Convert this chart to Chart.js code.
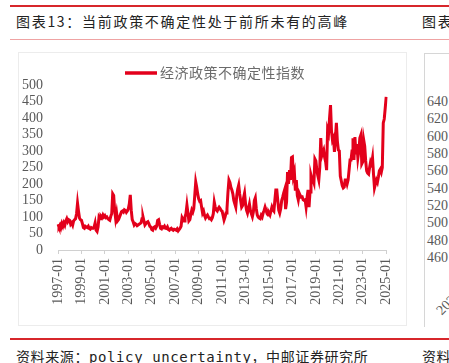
<!DOCTYPE html>
<html>
<head>
<meta charset="utf-8">
<script src="https://cdn.jsdelivr.net/npm/chart.js@4.4.1/dist/chart.umd.min.js"></script>
<style>
  html, body { margin: 0; padding: 0; background: #fff; }
  body { width: 449px; height: 363px; position: relative; overflow: hidden; font-family: 'Noto Sans CJK SC', sans-serif; }
  .rule-red { position: absolute; left: 10px; right: 0; height: 2px; background: #d7262b; }
  .rule-pink { position: absolute; left: 10px; right: 0; top: 39px; height: 1px; background: #efa3a3; }
  .title { position: absolute; top: 14px; left: 16px; font-size: 14px; line-height: 14px; letter-spacing: 1.7px; color: #222; white-space: nowrap; }
  .source { position: absolute; top: 350px; left: 16px; font-size: 14px; line-height: 14px; letter-spacing: 0.6px; color: #222; white-space: nowrap;
            font-family: 'DejaVu Sans Mono', 'Noto Sans CJK SC', monospace; }
  .box { position: absolute; left: 18px; top: 52px; width: 389px; height: 274px; border: 1px solid #ececec; box-sizing: border-box; }
  #wrap { position: absolute; left: 18px; top: 52px; width: 389px; height: 274px; }
  .rbox { position: absolute; left: 424px; top: 53px; width: 60px; height: 273px; border-left: 1px solid #d6d6d6; border-top: 1px solid #d6d6d6; }
  .rtick { position: absolute; left: 427px; font-family: 'Liberation Serif', serif; font-size: 14px; color: #595959; line-height: 14px; }
  .rlab { position: absolute; left: 434px; top: 308px; font-family: 'Liberation Serif', serif; font-size: 14px; line-height: 14px; color: #595959; transform: rotate(-45deg); transform-origin: left top; }
</style>
</head>
<body>
<div class="rule-red" style="top:5px"></div>
<div class="title">图表13：当前政策不确定性处于前所未有的高峰</div>
<div class="title" style="left:422px">图表</div>
<div class="rule-pink"></div>

<div class="box"></div>
<div id="wrap"><canvas id="epuChart" width="389" height="274"></canvas></div>

<div class="rbox"></div>
<div id="rightTicks"></div>
<div class="rlab">2020</div>

<div class="rule-red" style="top:338px"></div>
<div class="source">资料来源：policy uncertainty，中邮证券研究所</div>
<div class="source" style="left:422px">资料</div>

<script>
// Monthly index, 1997-01 .. 2025-01
const startYear = 1997;
const epuValues = [
  78, 70, 76, 68, 80, 72, 82, 75, 88, 95, 86, 92,          // 1997
  90, 78, 82, 75, 88, 92, 95, 110, 142, 118, 97, 92,       // 1998
  90, 80, 68, 66, 72, 70, 68, 72, 65, 63, 68, 66,          // 1999
  66, 70, 82, 60, 56, 70, 100, 95, 102, 98, 106, 100,      // 2000
  104, 98, 100, 95, 92, 90, 102, 110, 170, 165, 120, 95,   // 2001
  112, 88, 92, 100, 108, 116, 118, 115, 122, 120, 114, 118, // 2002
  125, 140, 167, 120, 92, 85, 76, 80, 78, 74, 76, 78,      // 2003
  80, 82, 95, 101, 88, 76, 80, 84, 86, 80, 72, 70,         // 2004
  62, 60, 68, 70, 66, 72, 90, 92, 78, 66, 64, 70,          // 2005
  68, 72, 66, 65, 70, 62, 60, 64, 66, 62, 60, 63,          // 2006
  62, 60, 64, 58, 62, 66, 72, 98, 92, 88, 100, 110,        // 2007
  136, 112, 88, 92, 108, 121, 115, 125, 165, 206, 190, 170, // 2008
  155, 148, 150, 130, 112, 118, 105, 97, 102, 106, 100, 95, // 2009
  96, 92, 98, 110, 145, 130, 121, 118, 125, 130, 126, 120, // 2010
  118, 105, 91, 100, 112, 125, 175, 212, 205, 190, 182, 170, // 2011
  150, 140, 130, 165, 185, 197, 170, 150, 130, 135, 158, 172, // 2012
  140, 121, 112, 125, 139, 120, 110, 101, 115, 150, 158, 125, // 2013
  106, 100, 97, 95, 105, 100, 112, 120, 130, 121, 110, 106, // 2014
  112, 106, 118, 130, 122, 118, 150, 182, 182, 150, 121, 112, // 2015
  125, 150, 160, 172, 182, 124, 145, 236, 200, 242, 212, 280, // 2016
  282, 224, 236, 180, 212, 165, 152, 172, 165, 160, 161, 152, // 2017
  150, 152, 130, 160, 182, 130, 176, 227, 215, 212, 203, 276, // 2018
  270, 242, 225, 212, 250, 339, 285, 295, 303, 280, 267, 242, // 2019
  364, 354, 400, 439, 360, 333, 340, 297, 340, 385, 330, 303, // 2020
  300, 224, 210, 195, 188, 191, 212, 212, 200, 212, 242, 273, // 2021
  273, 300, 339, 273, 342, 290, 321, 279, 300, 339, 348, 261, // 2022
  267, 333, 315, 270, 240, 233, 230, 250, 267, 260, 279, 230, // 2023
  188, 200, 212, 205, 221, 240, 245, 236, 250, 385, 397, 430, // 2024
  464                                                        // 2025
];
const yTicks = [0, 50, 100, 150, 200, 250, 300, 350, 400, 450, 500];
const rightTickLabels = [640, 620, 600, 580, 560, 540, 520, 500, 480, 460];

const months = epuValues.map((_, i) => {
  const y = startYear + Math.floor(i / 12);
  const m = (i % 12) + 1;
  return y + '-' + String(m).padStart(2, '0');
});

// neighbour panel's axis labels (cut off at the right edge)
const rt = document.getElementById('rightTicks');
rightTickLabels.forEach((v, i) => {
  const s = document.createElement('div');
  s.className = 'rtick';
  s.style.top = (95 + i * 17.35) + 'px';
  s.textContent = v;
  rt.appendChild(s);
});

const lineLegend = {
  id: 'lineLegend',
  afterDraw(chart) {
    const ctx = chart.ctx;
    const ds = chart.data.datasets[0];
    ctx.save();
    ctx.strokeStyle = ds.borderColor;
    ctx.lineWidth = 3.5;
    ctx.beginPath();
    ctx.moveTo(107, 21);
    ctx.lineTo(139, 21);
    ctx.stroke();
    ctx.font = "14px 'Noto Sans CJK SC'";
    ctx.letterSpacing = '0.5px';
    ctx.fillStyle = '#6b6b6b';
    ctx.textBaseline = 'middle';
    ctx.fillText(ds.label, 142, 21);
    ctx.restore();
  }
};

new Chart(document.getElementById('epuChart'), {
  type: 'line',
  data: {
    labels: months,
    datasets: [{
      label: '经济政策不确定性指数',
      data: epuValues,
      borderColor: '#e3001b',
      backgroundColor: '#e3001b',
      borderWidth: 3,
      pointRadius: 0,
      tension: 0
    }]
  },
  options: {
    responsive: false,
    animation: false,
    layout: { padding: { top: 33, right: 17, left: 0, bottom: 0 } },
    plugins: { legend: { display: false }, tooltip: { enabled: false } },
    scales: {
      x: {
        type: 'category',
        offset: false,
        grid: { drawOnChartArea: false, drawTicks: true, tickLength: 4, color: '#d0d0d0' },
        border: { display: true, color: '#d0d0d0', width: 1 },
        ticks: {
          autoSkip: false,
          maxRotation: 90,
          minRotation: 90,
          padding: 4,
          color: '#595959',
          font: { family: "'Liberation Serif', serif", size: 14 },
          callback: function (val, idx) {
            return idx % 24 === 0 ? months[idx] : null;
          }
        },
        afterFit: s => { s.height = 76; }
      },
      y: {
        min: 0,
        max: 500,
        afterBuildTicks: s => { s.ticks = yTicks.map(v => ({ value: v })); },
        grid: { display: false, drawTicks: false },
        border: { display: false },
        ticks: {
          autoSkip: false,
          padding: 15,
          color: '#595959',
          font: { family: "'Liberation Serif', serif", size: 14 }
        },
        afterFit: s => { s.width = 40; }
      }
    }
  },
  plugins: [lineLegend]
});
</script>
</body>
</html>
